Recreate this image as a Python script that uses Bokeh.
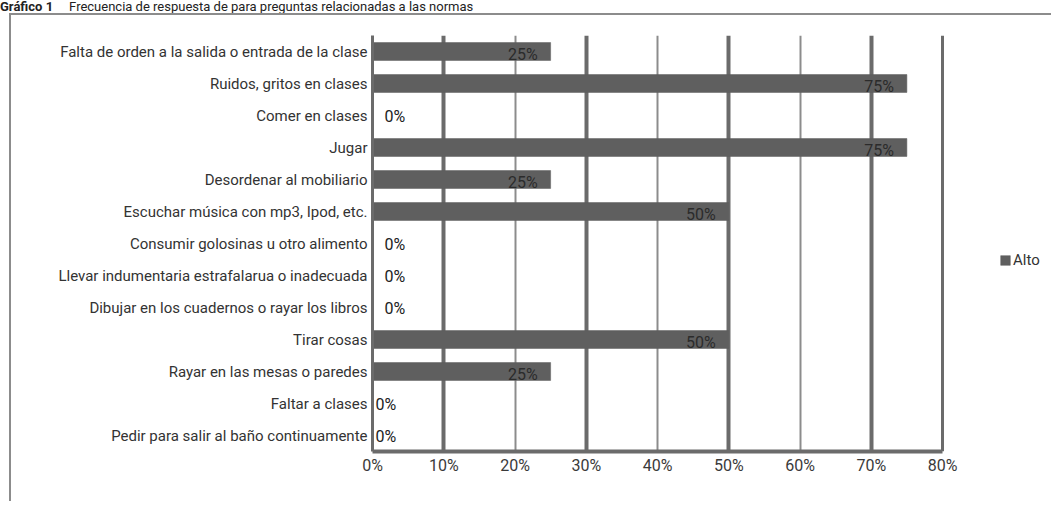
from bokeh.plotting import figure
from bokeh.layouts import column
from bokeh.models import (ColumnDataSource, FactorRange, Range1d, Grid, FixedTicker,
                          Legend, LegendItem, Div)
from bokeh.core.properties import value
from bokeh.embed import file_html
from bokeh.resources import INLINE

# ---------------- data ----------------
categories = [
    "Falta de orden a la salida o entrada de la clase",
    "Ruidos, gritos en clases",
    "Comer en clases",
    "Jugar",
    "Desordenar al mobiliario",
    "Escuchar música con mp3, Ipod, etc.",
    "Consumir golosinas u otro alimento",
    "Llevar indumentaria estrafalarua o inadecuada",
    "Dibujar en los cuadernos o rayar los libros",
    "Tirar cosas",
    "Rayar en las mesas o paredes",
    "Faltar a clases",
    "Pedir para salir al baño continuamente",
]
alto = [25, 75, 0, 75, 25, 50, 0, 0, 0, 50, 25, 0, 0]
series_name = "Alto"
x_ticks = [0, 10, 20, 30, 40, 50, 60, 70, 80]
x_tick_labels = ["0%", "10%", "20%", "30%", "40%", "50%", "60%", "70%", "80%"]
title_bold = "Gráfico 1"
title_text = "Frecuencia de respuesta de para preguntas relacionadas a las normas"

# ---------------- style / layout ----------------
FONT = "Roboto"
BAR = "#5f5f5f"
GRID_DARK = "#6b6b6b"
GRID_LIGHT = "#8c8c8c"
TXT = "#2b2b2b"
zero_label_pad = {"Faltar a clases": 3, "Pedir para salir al baño continuamente": 3}

W, H = 1042, 488
LEFT, RIGHT, TOP, BOTTOM = 361, 4, 20, 52
AXIS_PX = 570                      # pixel length of the 0-80 % axis
frame_w = W - LEFT - RIGHT
x_max = x_ticks[-1] * frame_w / AXIS_PX   # leave room for the legend inside the frame

# ---------------- title line ----------------
head = Div(text=f"<b>{title_bold}</b><span style='margin-left:16px'>{title_text}</span>",
           width=1040, height=13, margin=(0, 0, 0, 0),
           styles={"font-family": "Roboto", "font-size": "13px", "line-height": "13px",
                   "color": "#222222", "white-space": "nowrap", "overflow": "hidden"})

# ---------------- main chart ----------------
p = figure(width=W, height=H,
           y_range=FactorRange(factors=categories[::-1]),
           x_range=Range1d(0, x_max),
           output_backend="svg", toolbar_location=None,
           min_border_left=LEFT, min_border_right=RIGHT,
           min_border_top=TOP, min_border_bottom=BOTTOM)
p.margin = (0, 0, 0, 9)
p.outline_line_color = None
p.xgrid.visible = False
p.ygrid.visible = False
p.styles = {"border-left": "2px solid #8c8c8c", "border-top": "2px solid #8c8c8c"}

for ticks, col, w in (([10, 30, 50, 70], GRID_DARK, 4),
                      ([20, 40, 60], GRID_LIGHT, 2),
                      ([80], GRID_DARK, 3)):
    p.add_layout(Grid(dimension=0, ticker=FixedTicker(ticks=ticks),
                      grid_line_color=col, grid_line_width=w))

src = ColumnDataSource(dict(cat=categories, val=alto))
bars = p.hbar(y="cat", right="val", left=0, height=0.56, source=src,
              fill_color=BAR, line_color=BAR, line_width=0.5)

# data labels
nz = [(c, v) for c, v in zip(categories, alto) if v > 0]
z = [(c, v) for c, v in zip(categories, alto) if v == 0]
src_nz = ColumnDataSource(dict(cat=[c for c, _ in nz], val=[v for _, v in nz],
                               lab=[f"{v}%" for _, v in nz]))
src_z = ColumnDataSource(dict(cat=[c for c, _ in z], val=[v for _, v in z],
                              lab=[f"{v}%" for _, v in z],
                              off=[zero_label_pad.get(c, 12) for c, _ in z]))
p.text(x="val", y="cat", text="lab", source=src_nz, x_offset=-13, y_offset=3,
       text_align="right", text_baseline="middle", text_font=value(FONT),
       text_font_size="16px", text_color=TXT)
p.text(x="val", y="cat", text="lab", source=src_z, x_offset="off", y_offset=1,
       text_align="left", text_baseline="middle", text_font=value(FONT),
       text_font_size="16px", text_color="#222222")

# axes
p.xaxis.ticker = FixedTicker(ticks=x_ticks)
p.xaxis.bounds = (x_ticks[0], x_ticks[-1])
p.xaxis.major_label_overrides = {t: l for t, l in zip(x_ticks, x_tick_labels)}
p.xaxis.axis_line_color = GRID_DARK
p.xaxis.axis_line_width = 4
p.xaxis.major_tick_line_color = None
p.xaxis.minor_tick_line_color = None
p.xaxis.major_tick_out = 0
p.xaxis.major_tick_in = 0
p.xaxis.minor_tick_out = 0
p.xaxis.major_label_standoff = 4
p.xaxis.major_label_text_font = FONT
p.xaxis.major_label_text_font_size = "16px"
p.xaxis.major_label_text_color = "#3a3a3a"

p.yaxis.axis_line_color = GRID_DARK
p.yaxis.axis_line_width = 3
p.yaxis.major_tick_line_color = None
p.yaxis.minor_tick_line_color = None
p.yaxis.major_tick_out = 0
p.yaxis.major_tick_in = 0
p.yaxis.minor_tick_out = 0
p.yaxis.major_label_standoff = 5
p.yaxis.major_label_text_font = FONT
p.yaxis.major_label_text_font_size = "15px"
p.yaxis.major_label_text_color = "#333333"

# legend (inside the widened frame, right of the 80 % line)
legend = Legend(items=[LegendItem(label=series_name, renderers=[bars])],
                location=(627, 182), padding=0, margin=0, spacing=0,
                glyph_width=12, glyph_height=12, label_standoff=2,
                label_text_font=FONT, label_text_font_size="15px",
                label_text_color="#333333",
                border_line_alpha=0, background_fill_alpha=0)
p.add_layout(legend)

layout = column(head, p, spacing=0)
open("out.html", "w").write(file_html(layout, INLINE))
